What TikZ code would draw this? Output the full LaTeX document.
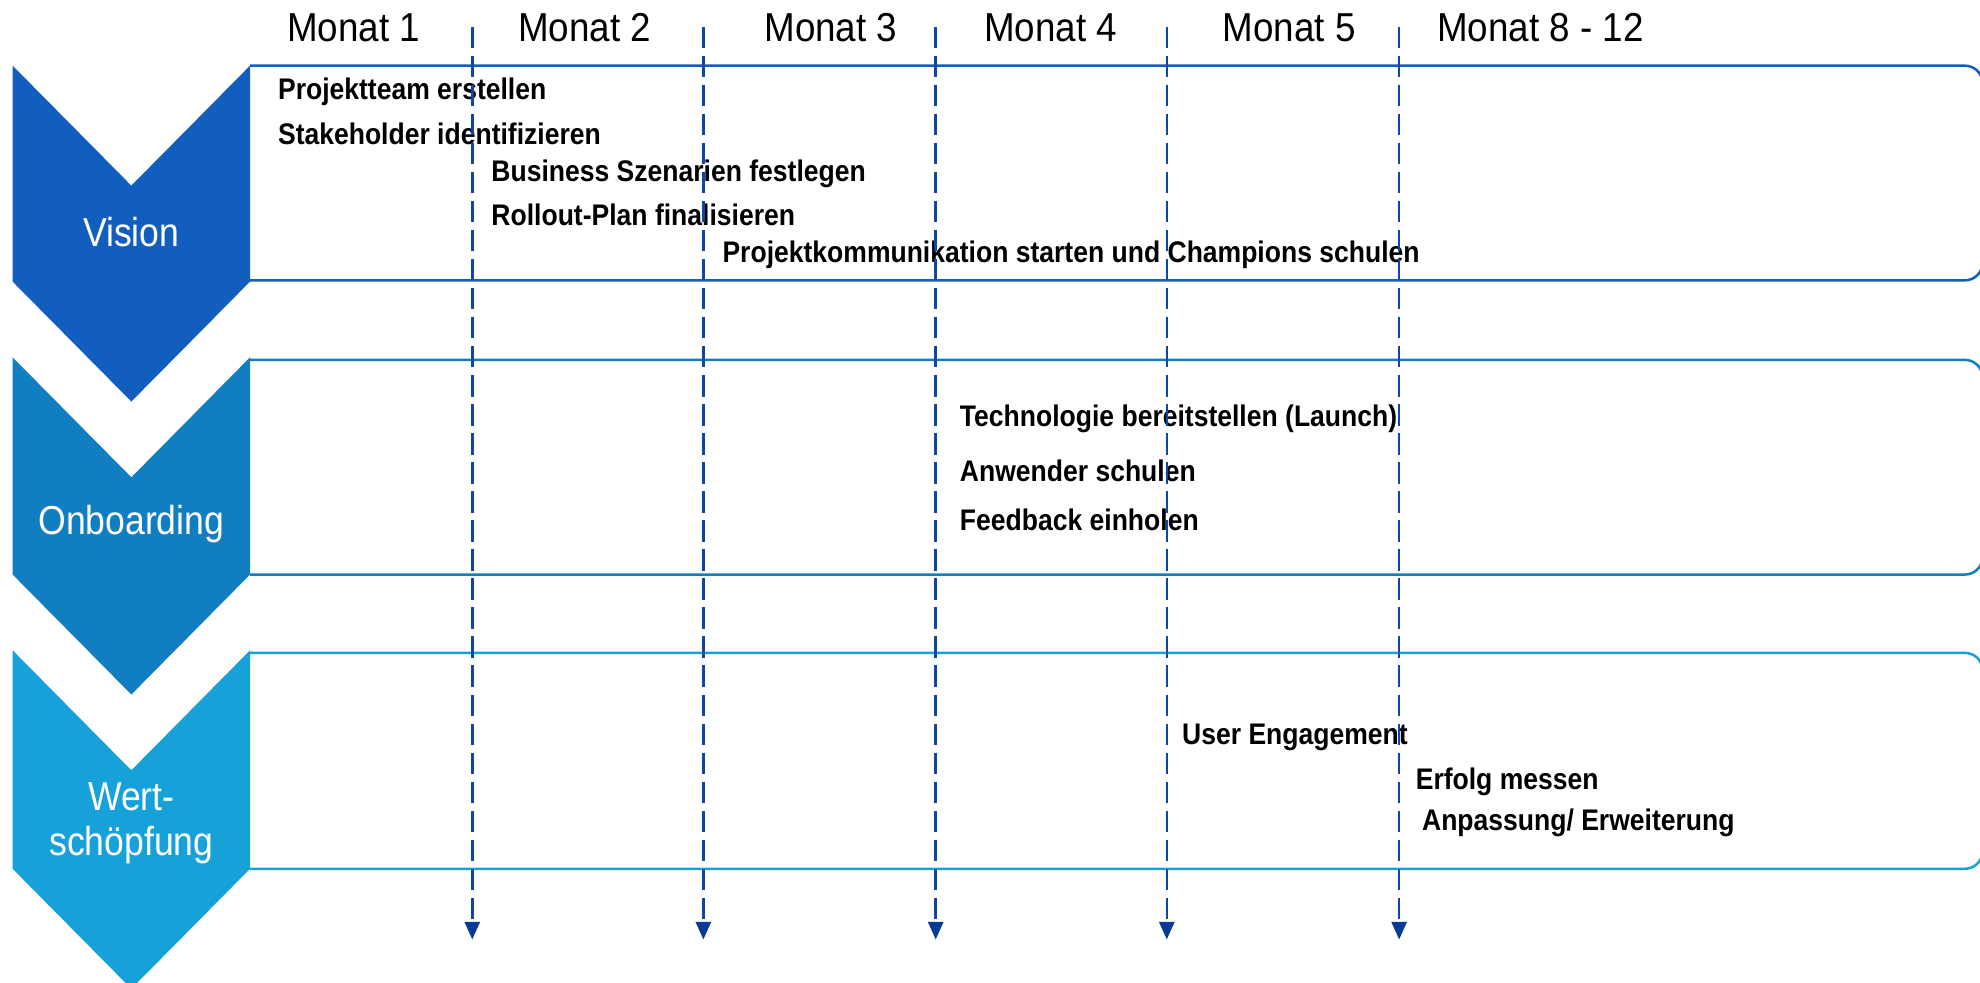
\documentclass[tikz,border=0pt]{standalone}
\usepackage{fontspec}
\setmainfont{Liberation Sans}
\newfontfamily\monthfont[FakeStretch=0.91]{Liberation Sans}
\newfontfamily\taskfont[FakeStretch=0.89]{Liberation Sans}
\newfontfamily\phasefont[FakeStretch=0.88]{Liberation Sans}
\usetikzlibrary{arrows.meta}
\definecolor{cA}{HTML}{115EBF}
\definecolor{cB}{HTML}{117EC2}
\definecolor{cC}{HTML}{17A1D9}
\definecolor{dashc}{HTML}{1046A6}
\definecolor{arrowc}{HTML}{0B3A94}
\tikzset{
  monthlbl/.style={anchor=center, inner sep=0pt, font=\monthfont\fontsize{32}{32}\selectfont},
  tasktxt/.style={anchor=west, inner sep=0pt, font=\taskfont\bfseries\fontsize{23.6}{23.6}\selectfont},
  phaselbl/.style={anchor=center, inner sep=0pt, text=white, align=center, font=\phasefont\fontsize{32}{35}\selectfont},
  rowline/.style={line width=2pt},
  timeline/.style={draw=dashc, line width=2pt, dash pattern=on 17pt off 6pt, -{Triangle[length=14pt,width=12pt,color=arrowc,fill=arrowc]}},
}
\begin{document}
\begin{tikzpicture}[x=1pt,y=1pt]
\useasboundingbox (0,0) rectangle (1568,-778);
\clip (0,0) rectangle (1568,-778);
% row frames
\draw[rowline, cA] (198,-52) -- (1556,-52) to[out=0,in=90] (1570,-66) -- (1570,-208) to[out=-90,in=0] (1556,-222) -- (198,-222);
\draw[rowline, cB] (198,-285) -- (1556,-285) to[out=0,in=90] (1570,-299) -- (1570,-441) to[out=-90,in=0] (1556,-455) -- (198,-455);
\draw[rowline, cC] (198,-517) -- (1556,-517) to[out=0,in=90] (1570,-531) -- (1570,-674) to[out=-90,in=0] (1556,-688) -- (198,-688);
% chevrons
\fill[cA] (10,-52) -- (104,-147) -- (198,-52) -- (198,-223) -- (104,-318) -- (10,-223) -- cycle;
\fill[cB] (10,-283) -- (104,-378) -- (198,-283) -- (198,-455) -- (104,-550) -- (10,-455) -- cycle;
\fill[cC] (10,-515) -- (104,-610) -- (198,-515) -- (198,-688) -- (104,-783) -- (10,-688) -- cycle;
\node[phaselbl] (vision) at (104,-184) {Vision};
\node[phaselbl] (onboard) at (104,-415) {Onboarding};
\node[phaselbl] (wert) at (104,-652) {Wert-\\schöpfung};
% months
\node[monthlbl] (m1) at (280,-22) {Monat 1};
\node[monthlbl] (m2) at (463,-22) {Monat 2};
\node[monthlbl] (m3) at (658,-22) {Monat 3};
\node[monthlbl] (m4) at (832,-22) {Monat 4};
\node[monthlbl] (m5) at (1021,-22) {Monat 5};
\node[monthlbl] (m8) at (1220,-22) {Monat 8 - 12};
% tasks
\node[tasktxt] (t1) at (220,-73) {Projektteam erstellen};
\node[tasktxt] (t2) at (220,-106) {Stakeholder identifizieren};
\node[tasktxt] (t3) at (389,-138) {Business Szenarien festlegen};
\node[tasktxt] (t4) at (389,-170) {Rollout-Plan finalisieren};
\node[tasktxt] (t5) at (572,-202) {Projektkommunikation starten und Champions schulen};
\node[tasktxt] (t6) at (760,-332) {Technologie bereitstellen (Launch)};
\node[tasktxt] (t7) at (760,-373) {Anwender schulen};
\node[tasktxt] (t8) at (760,-412) {Feedback einholen};
\node[tasktxt] (t9) at (936,-584) {User Engagement};
\node[tasktxt] (t10) at (1121,-619) {Erfolg messen};
\node[tasktxt] (t11) at (1126,-652) {Anpassung/ Erweiterung};
% timelines
\foreach \i/\x in {1/374,2/557,3/741,4/924,5/1108}{
  \coordinate (top\i) at (\x,-21);
  \coordinate (bot\i) at (\x,-744);
  \draw[timeline] (top\i) -- (bot\i);
}
\end{tikzpicture}
\end{document}
